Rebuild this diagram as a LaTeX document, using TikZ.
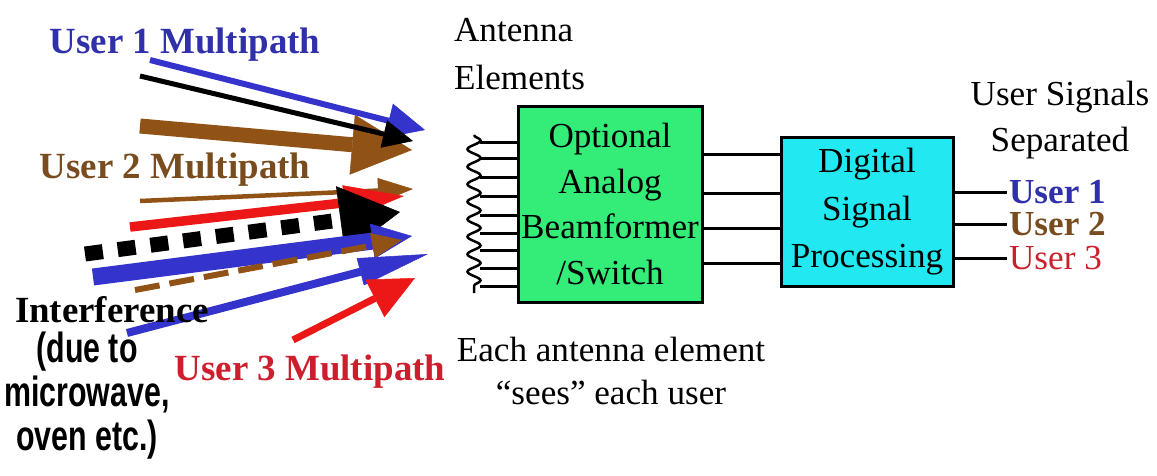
\documentclass[tikz,border=0pt]{standalone}
\usepackage{fontspec}
\setmainfont{Liberation Serif}
\newfontfamily\narrowfont[FakeStretch=0.72]{Liberation Sans}
\usepackage{xcolor}
\definecolor{ublue}{RGB}{52,52,204}
\definecolor{ubluetext}{RGB}{48,48,170}
\definecolor{ubrown}{RGB}{145,82,22}
\definecolor{ubrowntext}{RGB}{120,76,30}
\definecolor{ured}{RGB}{236,24,24}
\definecolor{uredtext}{RGB}{204,30,44}
\definecolor{beamgreen}{RGB}{52,236,120}
\definecolor{dspcyan}{RGB}{34,232,242}
\usepackage{tikz}
\usetikzlibrary{arrows.meta, calc, decorations.pathmorphing}

\begin{document}
\begin{tikzpicture}[
  x=0.2mm, y=-0.2mm,
  lbl/.style={font=\fontsize{20}{26}\selectfont, align=center, inner sep=1pt},
  mpath/.style={font=\bfseries\fontsize{21}{24}\selectfont, text=#1, inner sep=1pt},
  block/.style={rectangle, draw=black, line width=0.6mm, fill=#1, align=center,
                font=\fontsize{20}{26}\selectfont, inner sep=1pt},
  ray/.style={draw=#1, line cap=butt},
  wire/.style={draw=black, line width=0.6mm}
]
\useasboundingbox (0,0) rectangle (1157,475);

% Blocks
\node[block=beamgreen, minimum width=36.8mm, minimum height=39.2mm] (beam) at (610,204)
  {Optional\\Analog\\Beamformer\\/Switch};
\node[block=dspcyan, minimum width=34.4mm, minimum height=29.8mm,
      font=\fontsize{20}{27}\selectfont] (dsp) at (867,212)
  {Digital\\Signal\\Processing};

% Antenna elements
\coordinate (anttop) at (474,135);
\coordinate (antbot) at (474,293);
\coordinate (antx) at (480,0);
\draw[wire, line width=0.5mm, decorate,
      decoration={snake, segment length=3.5mm, amplitude=1.3mm}]
  (anttop) -- (antbot);
\foreach \y in {142,158,177,196,215,233,250,268,286}
  \draw[wire] (antx |- 0,\y) -- (beam.west |- 0,\y);

% Beamformer to DSP
\foreach \y in {154,193,228,263}
  \draw[wire] (beam.east |- 0,\y) -- (dsp.west |- 0,\y);

% Separated outputs
\node[lbl, anchor=west, font=\bfseries\fontsize{20}{24}\selectfont, text=ubluetext] (out1) at (1007,192) {User 1};
\node[lbl, anchor=west, font=\bfseries\fontsize{20}{24}\selectfont, text=ubrowntext] (out2) at (1007,224) {User 2};
\node[lbl, anchor=west, font=\fontsize{20}{24}\selectfont, text=uredtext] (out3) at (1007,258) {User 3};
\foreach \o in {out1,out2,out3}
  \draw[wire] (dsp.east |- \o.west) -- (\o.west);

% Multipath rays
\coordinate (r3a) at (140,126);  \coordinate (r3b) at (412,150);
\coordinate (r1a) at (150,60);   \coordinate (r1b) at (425,130);
\coordinate (r2a) at (140,76);   \coordinate (r2b) at (413,141);
\coordinate (r4a) at (140,201);  \coordinate (r4b) at (413,189);
\coordinate (r5a) at (130,227);  \coordinate (r5b) at (404,196);
\coordinate (r6a) at (85,254);   \coordinate (r6b) at (400,212);
\coordinate (r7a) at (93,277);   \coordinate (r7b) at (412,236);
\coordinate (r8a) at (135,290);  \coordinate (r8b) at (402,240);
\coordinate (r9a) at (127,333);  \coordinate (r9b) at (428,254);
\coordinate (r10a) at (293,340); \coordinate (r10b) at (415,278);

\draw[ray=ubrown, line width=3mm, -{Triangle[length=12mm, width=12mm, line width=0.3pt]}] (r3a) -- (r3b);
\draw[ray=ublue, line width=1.2mm, -{Triangle[length=7.5mm, width=7mm, line width=0.3pt]}] (r1a) -- (r1b);
\draw[ray=black, line width=1mm, -{Triangle[length=6mm, width=5.6mm, line width=0.3pt]}] (r2a) -- (r2b);
\draw[ray=ubrown, line width=0.9mm, -{Triangle[length=7mm, width=5mm, line width=0.3pt]}] (r4a) -- (r4b);
\draw[ray=ured, line width=1.9mm, -{Triangle[length=12mm, width=7mm, line width=0.3pt]}] (r5a) -- (r5b);
\draw[ray=black, line width=3mm, dash pattern=on 3.6mm off 3mm,
      -{Triangle[length=12mm, width=13.6mm, line width=0.3pt]}] (r6a) -- (r6b);
\draw[ray=ublue, line width=3.4mm, -{Triangle[length=8mm, width=7mm, line width=0.3pt]}] (r7a) -- (r7b);
\draw[ray=ubrown, line width=1.2mm, dash pattern=on 5mm off 2mm,
      -{Triangle[length=6mm, width=5mm, line width=0.3pt]}] (r8a) -- (r8b);
\draw[ray=ublue, line width=1.6mm, -{Triangle[length=14mm, width=5.6mm, line width=0.3pt]}] (r9a) -- (r9b);
\draw[ray=ured, line width=1.4mm, -{Triangle[length=9mm, width=8.4mm, line width=0.3pt]}] (r10a) -- (r10b);

% Source labels
\node[mpath=ubluetext] (mp1) at (185,45) {User 1 Multipath};
\node[mpath=ubrowntext] (mp2) at (175,170) {User 2 Multipath};
\node[mpath=uredtext] (mp3) at (310,372) {User 3 Multipath};
\node[mpath=black] (intf) at (112,310) {Interference};
\node[font=\narrowfont\bfseries\fontsize{24}{25}\selectfont, align=center, inner sep=1pt]
  (cause) at (87,396) {(due to\\microwave,\\oven etc.)};

% Captions
\node[lbl, align=left, anchor=west, font=\fontsize{20}{27}\selectfont] (antlbl) at (452,54) {Antenna\\Elements};
\node[lbl] (sepd) at (1060,120) {User Signals\\Separated};
\node[lbl, font=\fontsize{20}{24.5}\selectfont] (sees) at (611,371) {Each antenna element\\“sees” each user};
\end{tikzpicture}
\end{document}
